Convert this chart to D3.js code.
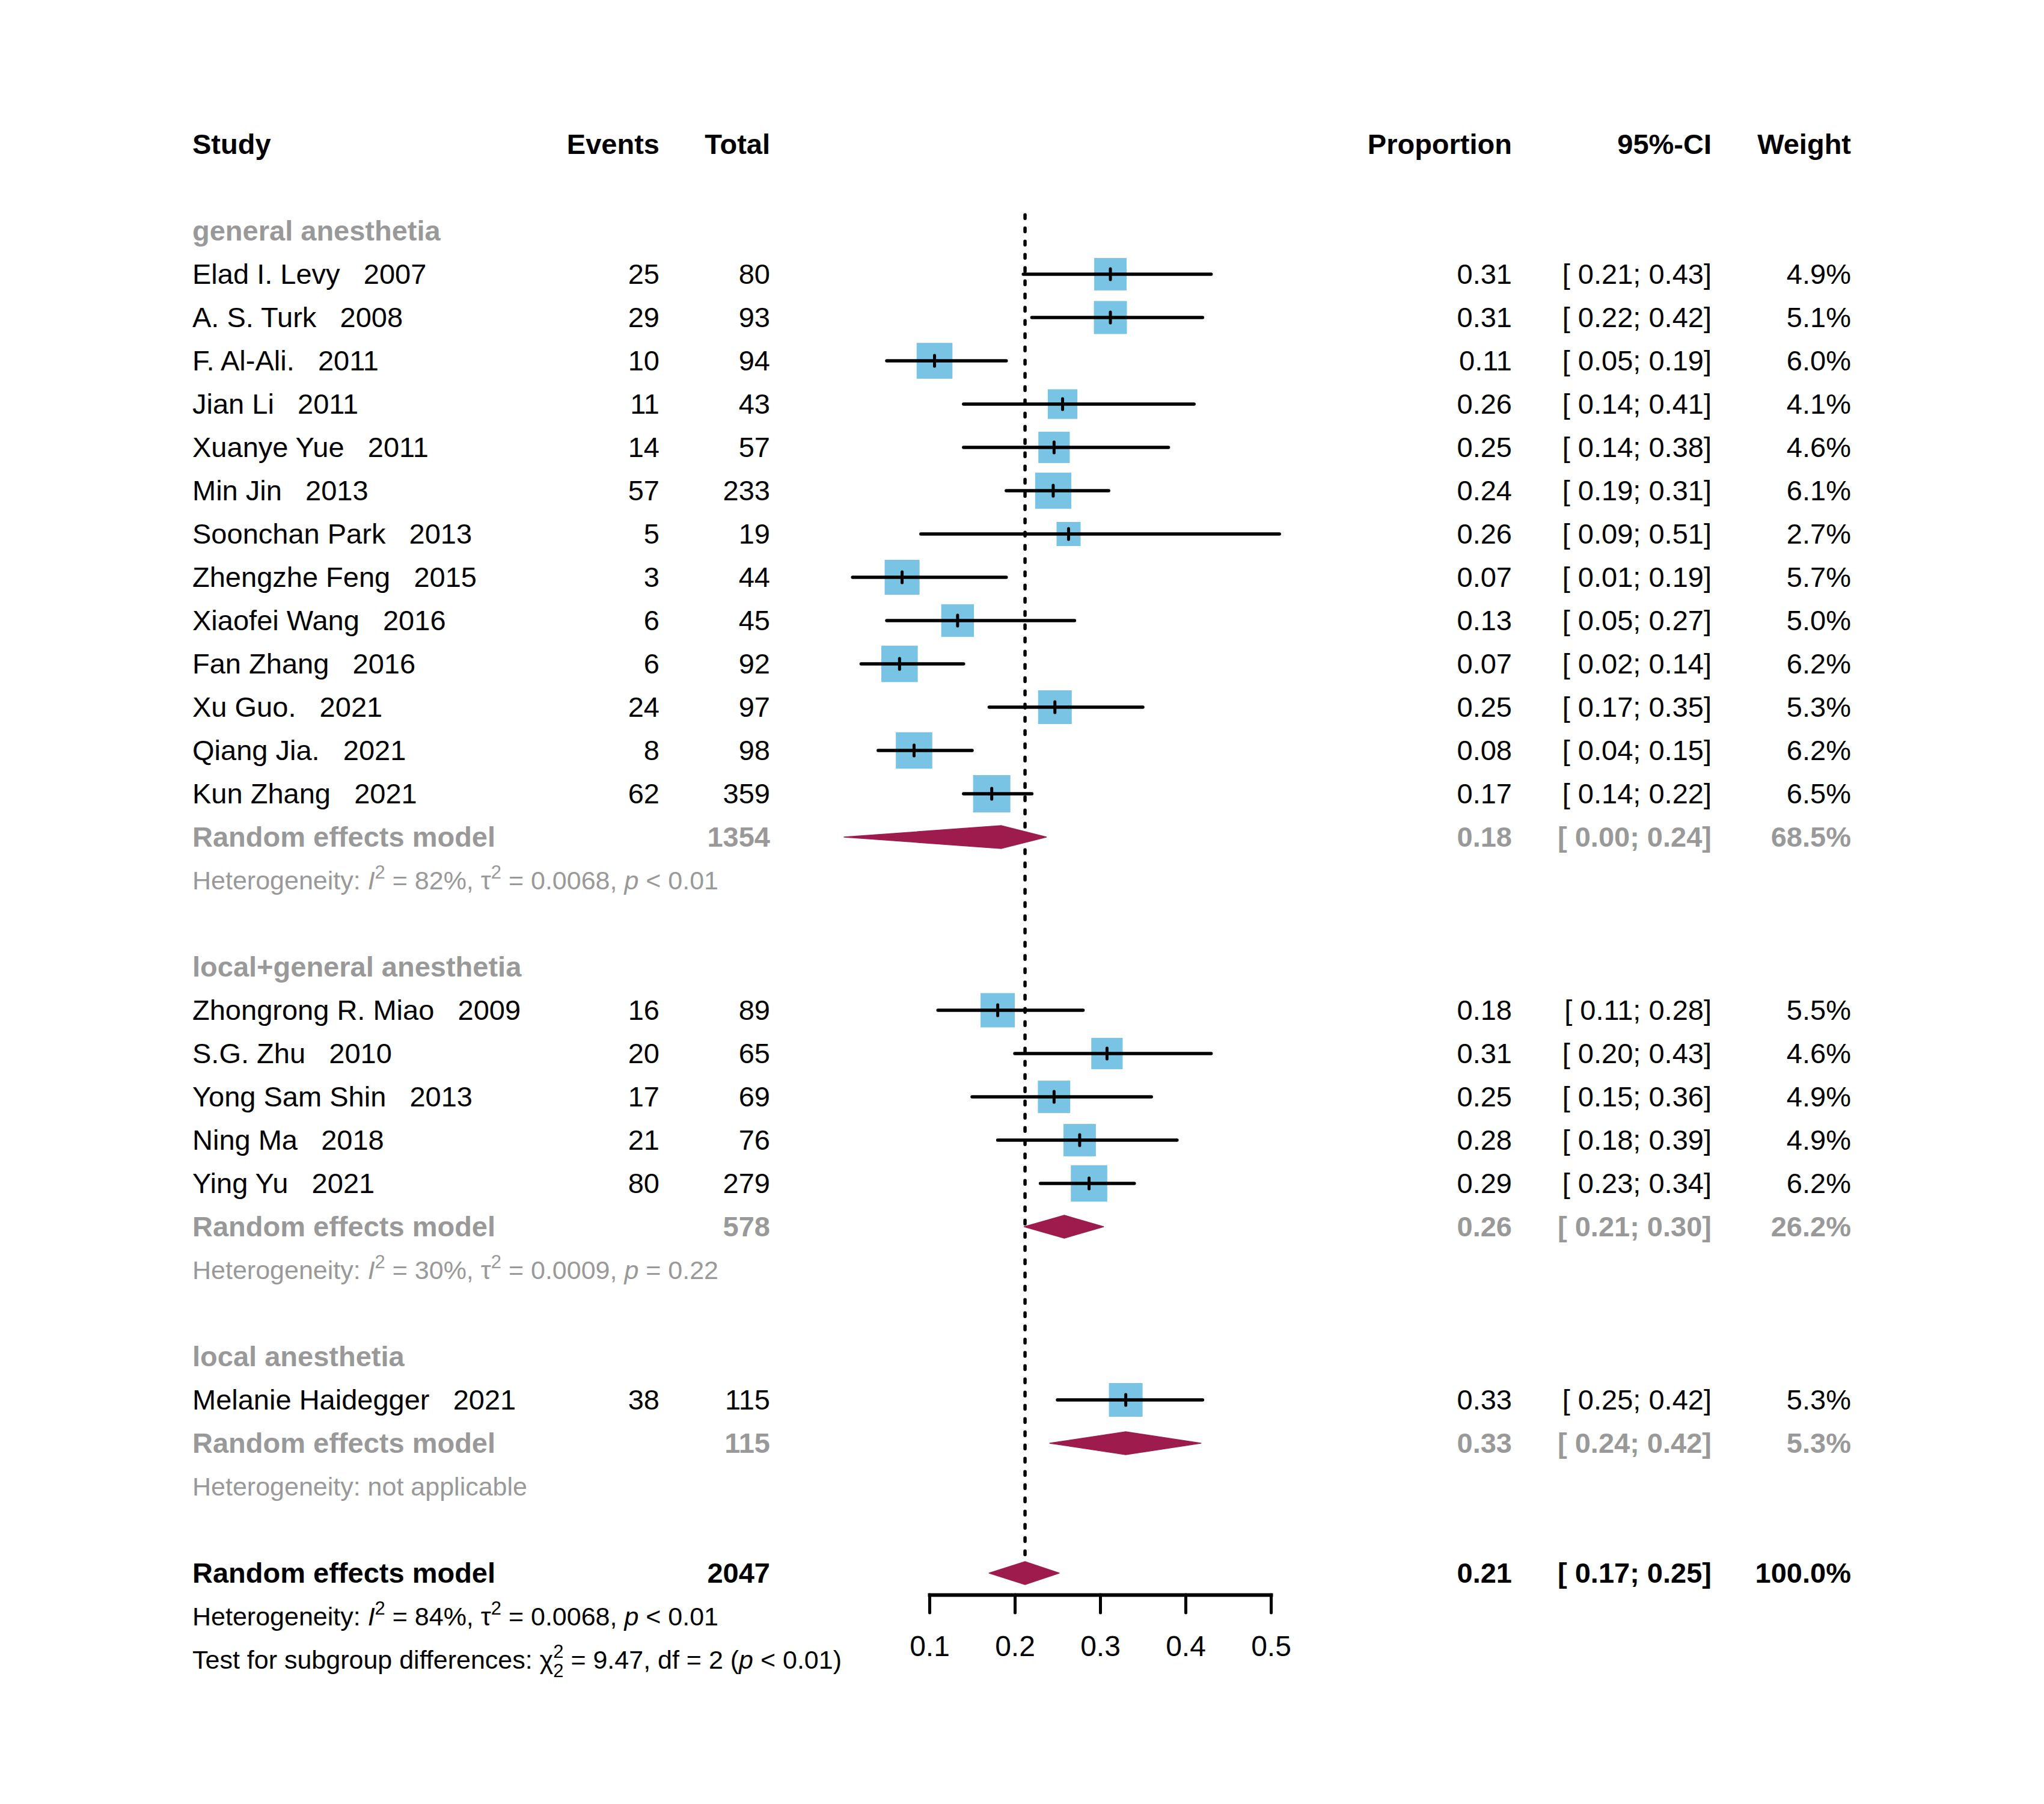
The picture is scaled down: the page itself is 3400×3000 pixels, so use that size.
<!DOCTYPE html>
<html>
<head>
<meta charset="utf-8">
<script src="https://cdn.jsdelivr.net/npm/d3@7"></script>
<style>
  body { margin: 0; background: #fff; }
  text { font-family: "Liberation Sans", Arial, Helvetica, sans-serif; white-space: pre; }
</style>
</head>
<body>
<svg id="chart"></svg>
<script>
// ------- data -------
const groups = ['general anesthetia', 'local+general anesthetia', 'local anesthetia'];

const studies = [
  'Elad I. Levy   2007', 'A. S. Turk   2008', 'F. Al-Ali.   2011', 'Jian Li   2011',
  'Xuanye Yue   2011', 'Min Jin   2013', 'Soonchan Park   2013', 'Zhengzhe Feng   2015',
  'Xiaofei Wang   2016', 'Fan Zhang   2016', 'Xu Guo.   2021', 'Qiang Jia.   2021',
  'Kun Zhang   2021',
  'Zhongrong R. Miao   2009', 'S.G. Zhu   2010', 'Yong Sam Shin   2013', 'Ning Ma   2018',
  'Ying Yu   2021',
  'Melanie Haidegger   2021'
];
const studyGroup = [0,0,0,0,0,0,0,0,0,0,0,0,0, 1,1,1,1,1, 2];
const events  = [25, 29, 10, 11, 14, 57, 5, 3, 6, 6, 24, 8, 62, 16, 20, 17, 21, 80, 38];
const totals  = [80, 93, 94, 43, 57, 233, 19, 44, 45, 92, 97, 98, 359, 89, 65, 69, 76, 279, 115];
const props   = [0.312, 0.312, 0.106, 0.256, 0.246, 0.245, 0.263, 0.068, 0.133, 0.065, 0.247, 0.082, 0.173,
                 0.180, 0.308, 0.246, 0.276, 0.287, 0.330];
const lowers  = [0.21, 0.22, 0.05, 0.14, 0.14, 0.19, 0.09, 0.01, 0.05, 0.02, 0.17, 0.04, 0.14,
                 0.11, 0.20, 0.15, 0.18, 0.23, 0.25];
const uppers  = [0.43, 0.42, 0.19, 0.41, 0.38, 0.31, 0.51, 0.19, 0.27, 0.14, 0.35, 0.15, 0.22,
                 0.28, 0.43, 0.36, 0.39, 0.34, 0.42];
const weights = [4.9, 5.1, 6.0, 4.1, 4.6, 6.1, 2.7, 5.7, 5.0, 6.2, 5.3, 6.2, 6.5,
                 5.5, 4.6, 4.9, 4.9, 6.2, 5.3];

// subgroup random effects
const reTotals  = [1354, 578, 115];
const reProps   = [0.184, 0.258, 0.330];
const reLowers  = [0.000, 0.211, 0.241];
const reUppers  = [0.237, 0.304, 0.418];
const reWeights = [68.5, 26.2, 5.3];
const hetI2     = ['82%', '30%', null];
const hetTau2   = ['0.0068', '0.0009', null];
const hetP      = ['< 0.01', '= 0.22', null];

// overall
const overallTotal = 2047;
const overallProp = 0.212, overallLower = 0.170, overallUpper = 0.252, overallWeight = 100.0;
const overallI2 = '84%', overallTau2 = '0.0068', overallP = '< 0.01';
const subgroupChi2 = '9.47', subgroupDf = '2', subgroupP = '< 0.01';

const xTicks = [0.1, 0.2, 0.3, 0.4, 0.5];
const headers = ['Study', 'Events', 'Total', 'Proportion', '95%-CI', 'Weight'];

// ------- layout -------
const W = 3400, H = 3000;
const GRAY = '#999999', BLUE = '#79c3e5', RED = '#9e1b4e';
const FS = 47, FS_HET = 43, FS_AXIS = 48;

const col = { study: 320, events: 1097, total: 1281, prop: 2515, ci: 2847, weight: 3079 };

const svg = d3.select('#chart').attr('width', W).attr('height', H);
svg.append('rect').attr('width', W).attr('height', H).attr('fill', '#fff');

const x = d3.scaleLinear().domain([0.1, 0.5]).range([1546, 2114]);
const rowY = d3.scaleLinear().domain([0, 35]).range([240, 240 + 72 * 35]);
const side = d3.scaleSqrt().domain([0, 6.5]).range([0, 62]);

const f2 = d3.format('.2f');
const fw = d3.format('.1f');
const ciText = (lo, hi) => `[ ${f2(lo)}; ${f2(hi)}]`;

function label(g, xpos, k, str, opts = {}) {
  return g.append('text')
    .attr('x', xpos)
    .attr('y', rowY(k))
    .attr('dy', '0.35em')
    .attr('text-anchor', opts.anchor || 'end')
    .attr('font-size', opts.size || FS)
    .attr('font-weight', opts.bold ? 'bold' : 'normal')
    .attr('fill', opts.color || '#000')
    .text(str);
}

// text with italic / superscript / subscript pieces
function richText(g, xpos, k, parts, size, color) {
  const t = g.append('text')
    .attr('x', xpos).attr('y', rowY(k) + size * 0.35)
    .attr('font-size', size).attr('fill', color);
  let shift = 0;
  parts.forEach(p => {
    const target = p.sup ? -0.42 * size : p.sub ? 0.32 * size : 0;
    const ts = t.append('tspan').attr('dy', target - shift).text(p.t);
    if (p.dx) ts.attr('dx', p.dx);
    if (p.sup || p.sub) ts.attr('font-size', size * 0.72);
    if (p.it) ts.attr('font-style', 'italic');
    shift = target;
  });
}

function hetParts(i2, tau2, p) {
  return [
    { t: 'Heterogeneity: ' }, { t: 'I', it: true }, { t: '2', sup: true },
    { t: ` = ${i2}, \u03c4` }, { t: '2', sup: true },
    { t: ` = ${tau2}, ` }, { t: 'p', it: true }, { t: ` ${p}` }
  ];
}

const gText = svg.append('g').attr('class', 'table');
const gMarks = svg.append('g').attr('class', 'marks');

// header
label(gText, col.study, 0, headers[0], { anchor: 'start', bold: true });
label(gText, col.events, 0, headers[1], { bold: true });
label(gText, col.total, 0, headers[2], { bold: true });
label(gText, col.prop, 0, headers[3], { bold: true });
label(gText, col.ci, 0, headers[4], { bold: true });
label(gText, col.weight, 0, headers[5], { bold: true });

// reference line (overall estimate), drawn beneath marks
svg.insert('line', '.marks')
  .attr('x1', x(overallProp)).attr('x2', x(overallProp))
  .attr('y1', rowY(1.63)).attr('y2', rowY(33) - 19)
  .attr('stroke', '#000').attr('stroke-width', 5.5)
  .attr('stroke-dasharray', '6 16').attr('stroke-linecap', 'round');

function diamond(k, est, lo, hi) {
  const cy = rowY(k), h = 19;
  gMarks.append('path')
    .attr('d', `M${x(lo)},${cy} L${x(est)},${cy - h} L${x(hi)},${cy} L${x(est)},${cy + h} Z`)
    .attr('fill', RED)
    .attr('stroke', RED).attr('stroke-width', 1.5).attr('stroke-linejoin', 'round');
}

let k = 2;
groups.forEach((grp, gi) => {
  label(gText, col.study, k, grp, { anchor: 'start', bold: true, color: GRAY });
  k++;
  studies.forEach((s, i) => {
    if (studyGroup[i] !== gi) return;
    label(gText, col.study, k, s, { anchor: 'start' });
    label(gText, col.events, k, events[i]);
    label(gText, col.total, k, totals[i]);
    label(gText, col.prop, k, f2(props[i]));
    label(gText, col.ci, k, ciText(lowers[i], uppers[i]));
    label(gText, col.weight, k, fw(weights[i]) + '%');

    const cy = rowY(k), sz = side(weights[i]);
    gMarks.append('rect')
      .attr('x', x(props[i]) - sz / 2).attr('y', cy - sz / 2)
      .attr('width', sz).attr('height', sz)
      .attr('fill', BLUE);
    gMarks.append('line')
      .attr('x1', x(lowers[i])).attr('x2', x(uppers[i]))
      .attr('y1', cy).attr('y2', cy)
      .attr('stroke', '#000').attr('stroke-width', 5.5).attr('stroke-linecap', 'round');
    gMarks.append('line')
      .attr('x1', x(props[i])).attr('x2', x(props[i]))
      .attr('y1', cy - 9).attr('y2', cy + 9)
      .attr('stroke', '#000').attr('stroke-width', 5).attr('stroke-linecap', 'round');
    k++;
  });

  label(gText, col.study, k, 'Random effects model', { anchor: 'start', bold: true, color: GRAY });
  label(gText, col.total, k, reTotals[gi], { bold: true, color: GRAY });
  label(gText, col.prop, k, f2(reProps[gi]), { bold: true, color: GRAY });
  label(gText, col.ci, k, ciText(reLowers[gi], reUppers[gi]), { bold: true, color: GRAY });
  label(gText, col.weight, k, fw(reWeights[gi]) + '%', { bold: true, color: GRAY });
  diamond(k, reProps[gi], reLowers[gi], reUppers[gi]);
  k++;

  if (hetI2[gi] === null) {
    richText(gText, col.study, k, [{ t: 'Heterogeneity: not applicable' }], FS_HET, GRAY);
  } else {
    richText(gText, col.study, k, hetParts(hetI2[gi], hetTau2[gi], hetP[gi]), FS_HET, GRAY);
  }
  k += 2;
});

// overall
label(gText, col.study, k, 'Random effects model', { anchor: 'start', bold: true });
label(gText, col.total, k, overallTotal, { bold: true });
label(gText, col.prop, k, f2(overallProp), { bold: true });
label(gText, col.ci, k, ciText(overallLower, overallUpper), { bold: true });
label(gText, col.weight, k, fw(overallWeight) + '%', { bold: true });
diamond(k, overallProp, overallLower, overallUpper);

richText(gText, col.study, k + 1, hetParts(overallI2, overallTau2, overallP), FS_HET, '#000');
const supW = 0.556 * 0.72 * FS_HET;
richText(gText, col.study, k + 2, [
  { t: 'Test for subgroup differences: \u03c7' }, { t: '2', sup: true },
  { t: subgroupDf, sub: true, dx: -supW },
  { t: ` = ${subgroupChi2}, df = ${subgroupDf} (` }, { t: 'p', it: true }, { t: ` ${subgroupP})` }
], FS_HET, '#000');

// x axis
const axisY = rowY(k) + 36;
const axis = svg.append('g')
  .attr('transform', `translate(0,${axisY})`)
  .call(d3.axisBottom(x).tickValues(xTicks).tickFormat(d3.format('.1f'))
    .tickSize(30).tickSizeOuter(0).tickPadding(38));
axis.select('.domain').attr('stroke', '#000').attr('stroke-width', 6).attr('stroke-linecap', 'square');
axis.selectAll('.tick line').attr('stroke', '#000').attr('stroke-width', 5).attr('stroke-linecap', 'round');
axis.selectAll('.tick text')
  .attr('font-size', FS_AXIS)
  .attr('font-family', '"Liberation Sans", Arial, Helvetica, sans-serif')
  .attr('fill', '#000');
</script>
</body>
</html>
